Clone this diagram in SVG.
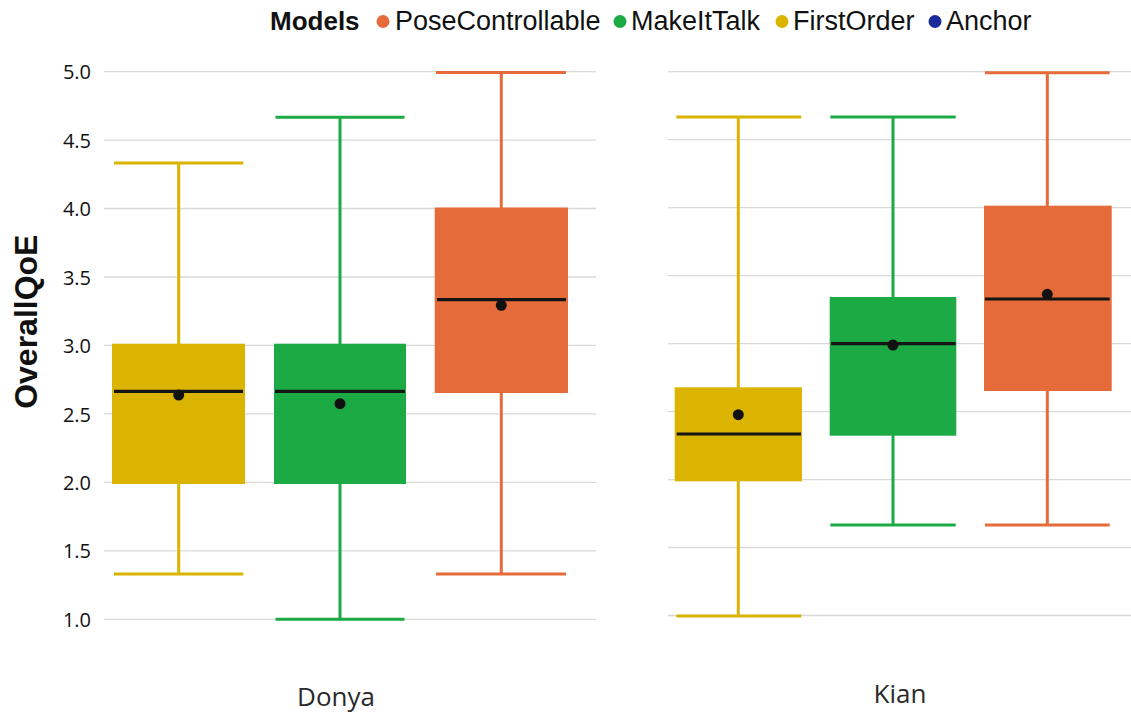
<svg xmlns="http://www.w3.org/2000/svg" width="1131" height="718" viewBox="0 0 1131 718">
<style>
.grid{stroke:#d9d9d9;stroke-width:1.3;fill:none}
.tick{font-family:"Open Sans","Noto Sans",sans-serif;font-size:20px;fill:#111;text-anchor:end}
.cat{font-family:"Open Sans","Noto Sans",sans-serif;font-size:26px;fill:#2a2a2a;text-anchor:middle}
.leg{font-family:"Liberation Sans",Arial,sans-serif;font-size:27px;fill:#111}
.legb{font-family:"Liberation Sans",Arial,sans-serif;font-size:26px;font-weight:bold;fill:#111}
.ytitle{font-family:"Liberation Sans",Arial,sans-serif;font-size:32px;font-weight:bold;fill:#111;text-anchor:middle}
.y{fill:#DAB400;stroke:#DAB400}
.g{fill:#1BAA44;stroke:#1BAA44}
.o{fill:#E56C3A;stroke:#E56C3A}
.wh{stroke-width:3;fill:none}
.box{stroke:none}
.med{stroke:#151515;stroke-width:3.2}
.mean{fill:#111;stroke:none}
</style>
<rect width="1131" height="718" fill="#fff"/>
<g id="gridlines">
<path class="grid" d="M104 71.7H596M104 140.1H596M104 208.5H596M104 277H596M104 345.4H596M104 413.9H596M104 482.3H596M104 550.8H596M104 619.3H596"/>
<path class="grid" d="M668 71.7H1131M668 139.7H1131M668 207.7H1131M668 275.6H1131M668 343.6H1131M668 411.6H1131M668 479.6H1131M668 547.5H1131M668 615.5H1131"/>
</g>
<g id="yaxis">
<text class="tick" x="91" y="79.3">5.0</text>
<text class="tick" x="91" y="147.7">4.5</text>
<text class="tick" x="91" y="216.1">4.0</text>
<text class="tick" x="91" y="284.6">3.5</text>
<text class="tick" x="91" y="353">3.0</text>
<text class="tick" x="91" y="421.5">2.5</text>
<text class="tick" x="91" y="489.9">2.0</text>
<text class="tick" x="91" y="558.4">1.5</text>
<text class="tick" x="91" y="626.9">1.0</text>
<text class="ytitle" transform="translate(37,321.7) rotate(-90)">OverallQoE</text>
</g>
<g id="xlabels">
<text class="cat" x="336" y="706">Donya</text>
<text class="cat" x="900" y="702.7">Kian</text>
</g>
<g id="legend">
<text class="legb" x="270" y="29.5">Models</text>
<circle cx="383" cy="21.5" r="6.5" fill="#E56C3A"/>
<text class="leg" x="395" y="29.5">PoseControllable</text>
<circle cx="620" cy="21.5" r="6.5" fill="#1BAA44"/>
<text class="leg" x="631" y="29.5">MakeItTalk</text>
<circle cx="782" cy="21.5" r="6.5" fill="#DAB400"/>
<text class="leg" x="793" y="29.5">FirstOrder</text>
<circle cx="935" cy="21.5" r="6.5" fill="#1B2A9B"/>
<text class="leg" x="946" y="29.5">Anchor</text>
</g>
<g id="connectors"></g>
<g id="donya-firstorder" class="y">
<path class="wh" d="M178.7 163V574M114 163H243.3M114 574H243.3"/>
<rect class="box" x="112" y="343.7" width="133" height="140.3"/>
<line class="med" x1="114" y1="391.3" x2="243" y2="391.3"/>
<circle class="mean" cx="178.7" cy="395" r="5.5"/>
</g>
<g id="donya-makeittalk" class="g">
<path class="wh" d="M340 117.3V619.3M275.5 117.3H404.5M275.5 619.3H404.5"/>
<rect class="box" x="274" y="343.7" width="132" height="140.3"/>
<line class="med" x1="275" y1="391.3" x2="405" y2="391.3"/>
<circle class="mean" cx="340" cy="403.7" r="5.5"/>
</g>
<g id="donya-posecontrollable" class="o">
<path class="wh" d="M501.3 72.5V574M436 72.5H566M436 574H566"/>
<rect class="box" x="434.7" y="207.5" width="133.3" height="185.5"/>
<line class="med" x1="437" y1="299.7" x2="566" y2="299.7"/>
<circle class="mean" cx="501.3" cy="305.3" r="5.5"/>
</g>
<g id="kian-firstorder" class="y">
<path class="wh" d="M738.3 117V616M676.3 117H801.3M676.3 616H801.3"/>
<rect class="box" x="674.7" y="387.3" width="127.3" height="94"/>
<line class="med" x1="676.7" y1="434" x2="801" y2="434"/>
<circle class="mean" cx="738.3" cy="414.7" r="5.5"/>
</g>
<g id="kian-makeittalk" class="g">
<path class="wh" d="M893 117V525M830.3 117H955.7M830.3 525H955.7"/>
<rect class="box" x="829.7" y="297" width="126.6" height="138.7"/>
<line class="med" x1="831" y1="343.7" x2="955.7" y2="343.7"/>
<circle class="mean" cx="893" cy="345" r="5.5"/>
</g>
<g id="kian-posecontrollable" class="o">
<path class="wh" d="M1047.3 72.7V525M985 72.7H1109.7M985 525H1109.7"/>
<rect class="box" x="984" y="205.7" width="127.7" height="185.3"/>
<line class="med" x1="985" y1="299" x2="1109.7" y2="299"/>
<circle class="mean" cx="1047.3" cy="294.3" r="5.5"/>
</g>
</svg>
